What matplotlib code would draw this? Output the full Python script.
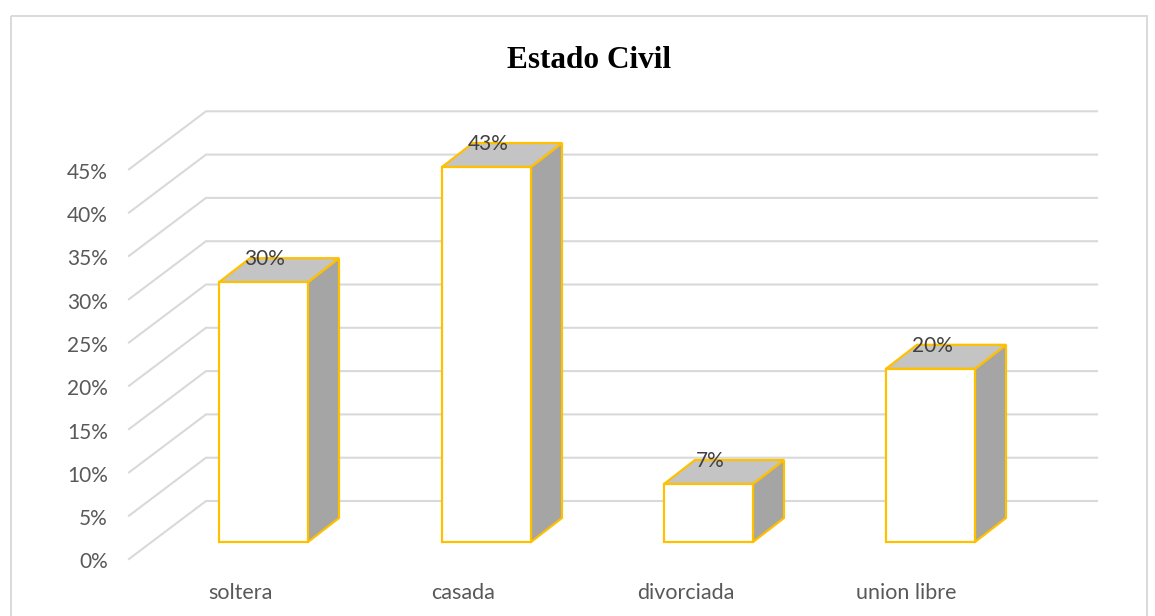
import matplotlib
matplotlib.use("Agg")
import matplotlib.pyplot as plt
from matplotlib.patches import Polygon

categories = ["soltera", "casada", "divorciada", "union libre"]
values = [30, 43.3, 6.7, 20]
ticks = [0, 5, 10, 15, 20, 25, 30, 35, 40, 45]

# pixel geometry of the fake 3d box
W, H = 1155, 616
X0, Y0 = 129, 559      # front floor left, 0%
PER_PCT = 8.66         # px per percent on the front plane
DX, DY = 77, 58        # depth of the back wall
PLOT_R = 1097
BAR_LEFT = [219, 442, 664, 886]
LABEL_X = [240, 463, 686, 906]
BAR_W = 89
BAR_DX, BAR_DY = 31, 24
BAR_BASE = 542

plt.rcParams["font.family"] = ["Lato", "DejaVu Sans"]
fig = plt.figure(figsize=(W / 100, H / 100), dpi=100)
ax = fig.add_axes([0, 0, 1, 1])
ax.set_xlim(0, W)
ax.set_ylim(H, 0)
ax.axis("off")

# chart frame
ax.add_patch(plt.Rectangle((10.5, 16), 1136, 620, fill=False, ec="#d9d9d9", lw=1.4))

grid = "#d9d9d9"
for t in ticks:
    y = Y0 - t * PER_PCT
    ax.plot([X0, X0 + DX, PLOT_R], [y, y - DY, y - DY], color=grid, lw=1.5, zorder=1)
    ax.text(108, y + 3.5, f"{t}%", ha="right", va="center", fontsize=15, color="#595959")

edge = "#ffc000"
for left, v, lx, name in zip(BAR_LEFT, values, LABEL_X, categories):
    top = BAR_BASE - v * PER_PCT
    right = left + BAR_W
    ax.add_patch(Polygon([(right, BAR_BASE), (right + BAR_DX, BAR_BASE - BAR_DY),
                          (right + BAR_DX, top - BAR_DY), (right, top)],
                         fc="#a5a5a5", ec=edge, lw=1.6, zorder=3))
    ax.add_patch(Polygon([(left, top), (left + BAR_DX, top - BAR_DY),
                          (right + BAR_DX, top - BAR_DY), (right, top)],
                         fc="#c4c4c4", ec=edge, lw=1.6, zorder=3))
    ax.add_patch(plt.Rectangle((left, top), BAR_W, BAR_BASE - top, fc="white", ec=edge, lw=1.6, zorder=4))
    ax.text(left + BAR_W / 2 + 1.5, top - 23, f"{v:.0f}%", ha="center", va="center",
            fontsize=15, color="#404040", zorder=5)
    ax.text(lx, 593, name, ha="center", va="center", fontsize=15.5, color="#595959")

ax.text(589, 61, "Estado Civil", ha="center", va="center", fontsize=22.5,
        fontweight="bold", family="Liberation Serif", color="black")

fig.savefig("out.png", dpi=100)
